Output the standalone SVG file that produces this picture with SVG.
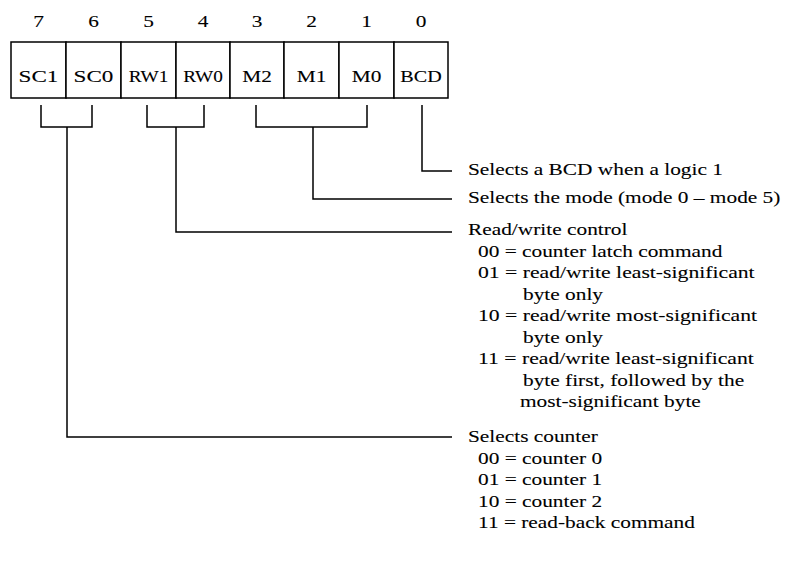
<svg xmlns="http://www.w3.org/2000/svg" width="790" height="565" viewBox="0 0 790 565">
<style>
  text { font-family: "Liberation Serif", "Times New Roman", serif; font-size: 17.5px; fill: #000; stroke: #000; stroke-width: 0.1; }
  .c { text-anchor: middle; }
  .cell { fill: #fff; stroke: #000; stroke-width: 1.5; }
  .wire { fill: none; stroke: #000; stroke-width: 1.5; }
</style>
<rect width="790" height="565" fill="#fff"/>
<g id="register">
  <g id="bit7"><rect class="cell" x="11" y="42" width="55" height="56"/><text class="c" transform="translate(38.5 27) scale(1.22 1)">7</text><text class="c" transform="translate(38.5 82) scale(1.32 1)">SC1</text></g>
  <g id="bit6"><rect class="cell" x="66" y="42" width="55" height="56"/><text class="c" transform="translate(93.5 27) scale(1.22 1)">6</text><text class="c" transform="translate(93.5 82) scale(1.32 1)">SC0</text></g>
  <g id="bit5"><rect class="cell" x="121" y="42" width="55" height="56"/><text class="c" transform="translate(148.5 27) scale(1.22 1)">5</text><text class="c" transform="translate(148.5 82) scale(1.1 1)">RW1</text></g>
  <g id="bit4"><rect class="cell" x="176" y="42" width="54" height="56"/><text class="c" transform="translate(203 27) scale(1.22 1)">4</text><text class="c" transform="translate(203 82) scale(1.1 1)">RW0</text></g>
  <g id="bit3"><rect class="cell" x="230" y="42" width="54" height="56"/><text class="c" transform="translate(257 27) scale(1.22 1)">3</text><text class="c" transform="translate(257 82) scale(1.22 1)">M2</text></g>
  <g id="bit2"><rect class="cell" x="284" y="42" width="55" height="56"/><text class="c" transform="translate(311.5 27) scale(1.22 1)">2</text><text class="c" transform="translate(311.5 82) scale(1.22 1)">M1</text></g>
  <g id="bit1"><rect class="cell" x="339" y="42" width="55" height="56"/><text class="c" transform="translate(366.5 27) scale(1.22 1)">1</text><text class="c" transform="translate(366.5 82) scale(1.22 1)">M0</text></g>
  <g id="bit0"><rect class="cell" x="394" y="42" width="54" height="56"/><text class="c" transform="translate(421 27) scale(1.22 1)">0</text><text class="c" transform="translate(421 82) scale(1.15 1)">BCD</text></g>
</g>
<g id="connectors">
  <path class="wire" d="M41 105 V127 H92 V105"/>
  <path class="wire" d="M67 127 V437 H452"/>
  <path class="wire" d="M147 105 V127 H204 V105"/>
  <path class="wire" d="M176 127 V232 H452"/>
  <path class="wire" d="M256 105 V127 H367 V105"/>
  <path class="wire" d="M313 127 V199 H452"/>
  <path class="wire" d="M422 105 V171 H452"/>
</g>
<g id="desc-bcd">
  <text transform="translate(468 175) scale(1.22 1)">Selects a BCD when a logic 1</text>
</g>
<g id="desc-mode">
  <text transform="translate(468 203) scale(1.22 1)">Selects the mode (mode 0 – mode 5)</text>
</g>
<g id="desc-rw">
  <text transform="translate(468 235) scale(1.22 1)">Read/write control</text>
  <text transform="translate(478 256.5) scale(1.22 1)">00 = counter latch command</text>
  <text transform="translate(478 278) scale(1.24 1)">01 = read/write least-significant</text>
  <text transform="translate(523 299.5) scale(1.22 1)">byte only</text>
  <text transform="translate(478 321) scale(1.24 1)">10 = read/write most-significant</text>
  <text transform="translate(523 342.5) scale(1.22 1)">byte only</text>
  <text transform="translate(478 364) scale(1.24 1)">11 = read/write least-significant</text>
  <text transform="translate(523 385.5) scale(1.22 1)">byte first, followed by the</text>
  <text transform="translate(520 407) scale(1.22 1)">most-significant byte</text>
</g>
<g id="desc-sc">
  <text transform="translate(468 442) scale(1.22 1)">Selects counter</text>
  <text transform="translate(478 463.5) scale(1.22 1)">00 = counter 0</text>
  <text transform="translate(478 485) scale(1.22 1)">01 = counter 1</text>
  <text transform="translate(478 506.5) scale(1.22 1)">10 = counter 2</text>
  <text transform="translate(478 528) scale(1.22 1)">11 = read-back command</text>
</g>
</svg>
